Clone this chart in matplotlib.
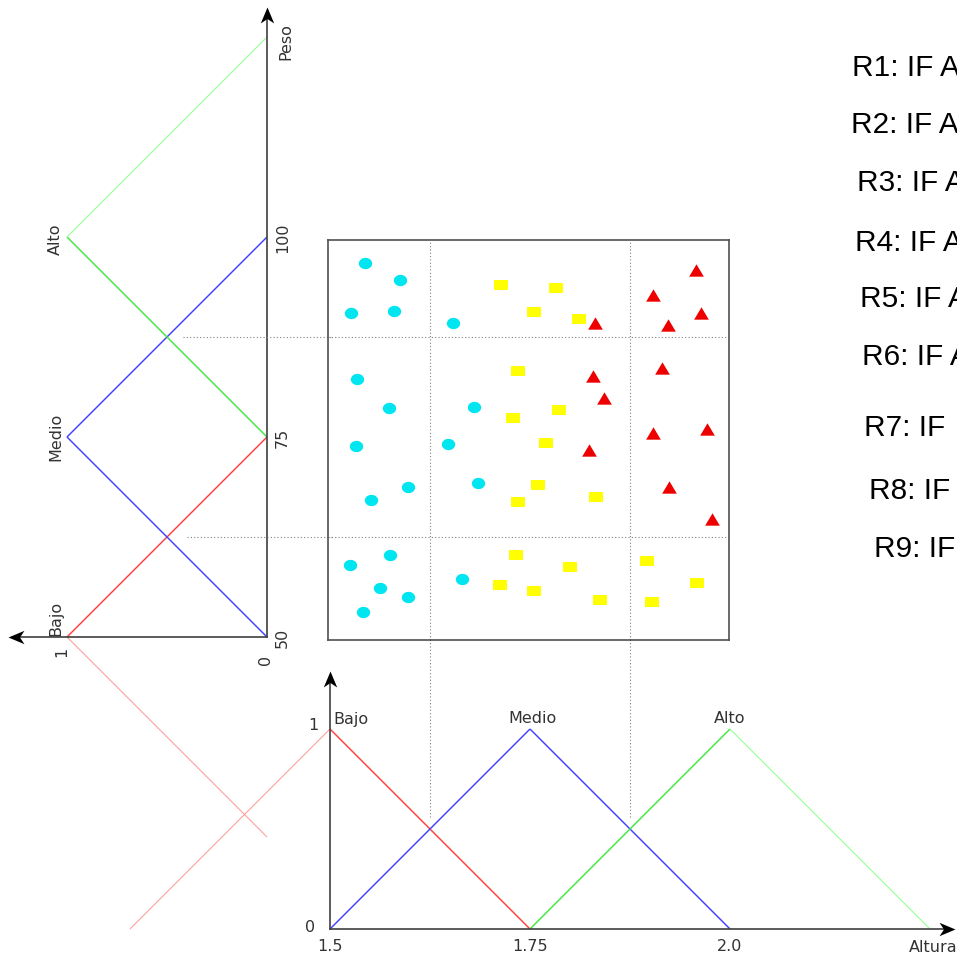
import matplotlib
matplotlib.use("Agg")
import matplotlib.pyplot as plt
import numpy as np

# ---------------------------------------------------------------- data
membership = [0, 1, 0]

altura_bajo = [1.25, 1.5, 1.75]
altura_medio = [1.5, 1.75, 2.0]
altura_alto = [1.75, 2.0, 2.25]
altura_ticks = [1.5, 1.75, 2.0]
altura_tick_labels = ["1.5", "1.75", "2.0"]
altura_range = [1.5, 2.0]
altura_cuts = [1.625, 1.875]

peso_bajo = [25, 50, 75]
peso_medio = [50, 75, 100]
peso_alto = [75, 100, 125]
peso_ticks = [50, 75, 100]
peso_tick_labels = ["50", "75", "100"]
peso_range = [50, 100]
peso_cuts = [62.5, 87.5]

set_names = ["Bajo", "Medio", "Alto"]

# samples: (altura, peso)
bajos_altura = [1.544, 1.587, 1.526, 1.580, 1.654, 1.534, 1.574, 1.680, 1.533, 1.648,
                1.597, 1.551, 1.685, 1.575, 1.525, 1.665, 1.563, 1.597, 1.541]
bajos_peso = [96.8, 94.6, 90.5, 90.7, 89.2, 82.2, 78.6, 78.7, 73.9, 74.1,
              68.8, 67.1, 69.3, 60.2, 59.0, 57.3, 56.1, 55.0, 53.1]

medios_altura = [1.714, 1.782, 1.755, 1.811, 1.735, 1.786, 1.729, 1.770, 1.760, 1.735,
                 1.833, 1.732, 1.800, 1.712, 1.755, 1.838, 1.896, 1.959, 1.903]
medios_peso = [94.0, 93.6, 90.6, 89.7, 83.2, 78.4, 77.4, 74.3, 69.0, 66.9,
               67.5, 60.3, 58.8, 56.5, 55.8, 54.6, 59.5, 56.7, 54.4]

altos_altura = [1.958, 1.904, 1.964, 1.923, 1.831, 1.915, 1.829, 1.843, 1.904, 1.971,
                1.824, 1.924, 1.977]
altos_peso = [95.9, 92.8, 90.5, 89.0, 89.3, 83.6, 82.6, 79.9, 75.5, 76.0,
              73.4, 68.8, 64.7]

rules = ["R1: IF A", "R2: IF A", "R3: IF A", "R4: IF A", "R5: IF A",
         "R6: IF A", "R7: IF", "R8: IF", "R9: IF"]

# ---------------------------------------------------------------- style
RED, BLUE, GREEN = "#ff4040", "#4040ff", "#40e840"
RED_FAINT, GREEN_FAINT = "#ff9c9c", "#8cff8c"
AXIS = "#404040"
TEXT = "#333333"
DOT = "#808080"
LABEL = dict(family="DejaVu Sans", fontsize=11.5, color=TEXT)

W, H = 957, 954
fig = plt.figure(figsize=(W / 100, H / 100), dpi=100)


def place(xlim, ylim, xref, yref):
    """Add an axes whose data->pixel mapping passes through the given references."""
    (dx0, px0), (dx1, px1) = xref
    (dy0, py0), (dy1, py1) = yref
    sx = (px1 - px0) / (dx1 - dx0)
    sy = (py1 - py0) / (dy1 - dy0)
    xa, xb = px0 + (xlim[0] - dx0) * sx, px0 + (xlim[1] - dx0) * sx
    ya, yb = py0 + (ylim[0] - dy0) * sy, py0 + (ylim[1] - dy0) * sy
    left, right = min(xa, xb), max(xa, xb)
    top, bottom = min(ya, yb), max(ya, yb)
    ax = fig.add_axes([left / W, 1 - bottom / H, (right - left) / W, (bottom - top) / H])
    ax.set_xlim(*xlim)
    ax.set_ylim(*ylim)
    ax.patch.set_alpha(0)
    return ax


def arrow_marker(angle_deg):
    """Concave arrow head with its tip at the origin."""
    base = np.array([(0, 0), (-1, 0.42), (-0.72, 0), (-1, -0.42), (0, 0)])
    a = np.deg2rad(angle_deg)
    rot = np.array([[np.cos(a), -np.sin(a)], [np.sin(a), np.cos(a)]])
    return [tuple(p) for p in base @ rot.T]


def fuzzy_segments(ax, xs, ys, lo, hi, color, faint, swap=False):
    for i in range(len(xs) - 1):
        inside = lo <= xs[i] <= hi and lo <= xs[i + 1] <= hi
        px, py = [xs[i], xs[i + 1]], [ys[i], ys[i + 1]]
        if swap:
            px, py = py, px
        ax.plot(px, py, color=color if inside else faint,
                lw=1.05 if inside else 0.75, clip_on=False, solid_capstyle="butt")


ARROW = dict(ms=23, color="black", mew=0, clip_on=False)

# ---------------------------------------------------------------- Altura membership (bottom)
ax_b = place((1.2, 2.35), (-0.1, 1.3), ((1.5, 330), (2.0, 730)), ((0, 930), (1, 730)))
ax_b.axis("off")
for xs, c, f in [(altura_bajo, RED, RED_FAINT), (altura_medio, BLUE, BLUE),
                 (altura_alto, GREEN, GREEN_FAINT)]:
    fuzzy_segments(ax_b, xs, membership, altura_range[0], altura_range[1], c, f)

x_end, y_end = 2.281, 1.29
ax_b.plot([1.5, x_end - 0.01], [0, 0], color=AXIS, lw=1.2, clip_on=False)
ax_b.plot([1.5, 1.5], [0, y_end - 0.04], color=AXIS, lw=1.2, clip_on=False)
ax_b.plot([x_end], [0], marker=arrow_marker(0), **ARROW)
ax_b.plot([1.5], [y_end], marker=arrow_marker(90), **ARROW)

for x in altura_cuts:
    ax_b.plot([x, x], [0.56, 1.45], color=DOT, lw=0.8, ls=(0, (1, 2)), clip_on=False)

ax_b.text(1.486, 1.0, "1", ha="right", va="baseline", **LABEL)
ax_b.text(1.481, -0.01, "0", ha="right", va="baseline", **LABEL)
ax_b.text(1.504, 1.03, set_names[0], ha="left", va="baseline", **LABEL)
ax_b.text(1.7525, 1.035, set_names[1], ha="center", va="baseline", **LABEL)
ax_b.text(2.0, 1.035, set_names[2], ha="center", va="baseline", **LABEL)
for x, s in zip(altura_ticks, altura_tick_labels):
    ax_b.text(x, -0.105, s, ha="center", va="baseline", **LABEL)
ax_b.text(2.224, -0.11, "Altura", ha="left", va="baseline", **LABEL)

# ---------------------------------------------------------------- Peso membership (left, rotated)
ax_l = place((1.3, -0.35), (20, 130), ((0, 267), (1, 67)), ((50, 638), (100, 238)))
ax_l.axis("off")
for ys, c, f in [(peso_bajo, RED, RED_FAINT), (peso_medio, BLUE, BLUE),
                 (peso_alto, GREEN, GREEN_FAINT)]:
    fuzzy_segments(ax_l, ys, membership, peso_range[0], peso_range[1], c, f, swap=True)

m_end, p_end = 1.295, 128.75
ax_l.plot([0, m_end - 0.04], [50, 50], color=AXIS, lw=1.2, clip_on=False)
ax_l.plot([0, 0], [50, p_end - 1.0], color=AXIS, lw=1.2, clip_on=False)
ax_l.plot([m_end], [50], marker=arrow_marker(180), **ARROW)
ax_l.plot([0], [p_end], marker=arrow_marker(90), **ARROW)

for y, m0 in zip(peso_cuts, [0.40, 0.42]):
    ax_l.plot([m0, -0.32], [y, y], color=DOT, lw=0.8, ls=(0, (1, 2)), clip_on=False)

ROT = dict(rotation=90, rotation_mode="anchor", ha="center", va="baseline")
ax_l.text(-0.115, 124.6, "Peso", **ROT, **LABEL)
for y, s in zip(peso_ticks, peso_tick_labels):
    ax_l.text(-0.1, y, s, **ROT, **LABEL)
ax_l.text(-0.015, 47.25, "0", **ROT, **LABEL)
ax_l.text(1.005, 48.25, "1", **ROT, **LABEL)
for y, s in zip([52.5, 75.1, 99.9], set_names):
    ax_l.text(1.035, y, s, **ROT, **LABEL)

# ---------------------------------------------------------------- samples (centre)
ax_c = place((1.497, 1.999), (49.6, 99.6), ((1.5, 330), (2.0, 730)), ((50, 638), (100, 238)))
ax_c.set_xticks([])
ax_c.set_yticks([])
for sp in ax_c.spines.values():
    sp.set_color("#505050")
    sp.set_linewidth(1.2)

for x in altura_cuts:
    ax_c.plot([x, x], [49.6, 99.6], color=DOT, lw=0.8, ls=(0, (1, 2)))
for y in peso_cuts:
    ax_c.plot([1.497, 1.999], [y, y], color=DOT, lw=0.8, ls=(0, (1, 2)))

t = np.linspace(0, 2 * np.pi, 40)
ellipse = list(zip(np.cos(t), 0.85 * np.sin(t)))
rect = [(-1, -0.75), (1, -0.75), (1, 0.75), (-1, 0.75), (-1, -0.75)]
tri = [(-1, -0.84), (1, -0.84), (0, 0.84), (-1, -0.84)]

ax_c.plot(bajos_altura, bajos_peso, ls="none", marker=ellipse, ms=9.6,
          color="#00e6f0", mew=0)
ax_c.plot(medios_altura, medios_peso, ls="none", marker=rect, ms=9.6,
          color="#ffff00", mew=0)
ax_c.plot(altos_altura, altos_peso, ls="none", marker=tri, ms=10.6,
          color="#ee0000", mew=0)

# ---------------------------------------------------------------- rule list
rule_left = [852, 851, 857, 855, 860, 862, 864, 869, 874]
rule_base = [76, 133, 191, 251, 307, 365, 436, 499, 557]
for s, x, y in zip(rules, rule_left, rule_base):
    fig.text(x / W, 1 - y / H, s, ha="left", va="baseline",
             family="Liberation Sans", fontsize=21.4, color="black")

fig.savefig("out.png", dpi=100, facecolor="white")
